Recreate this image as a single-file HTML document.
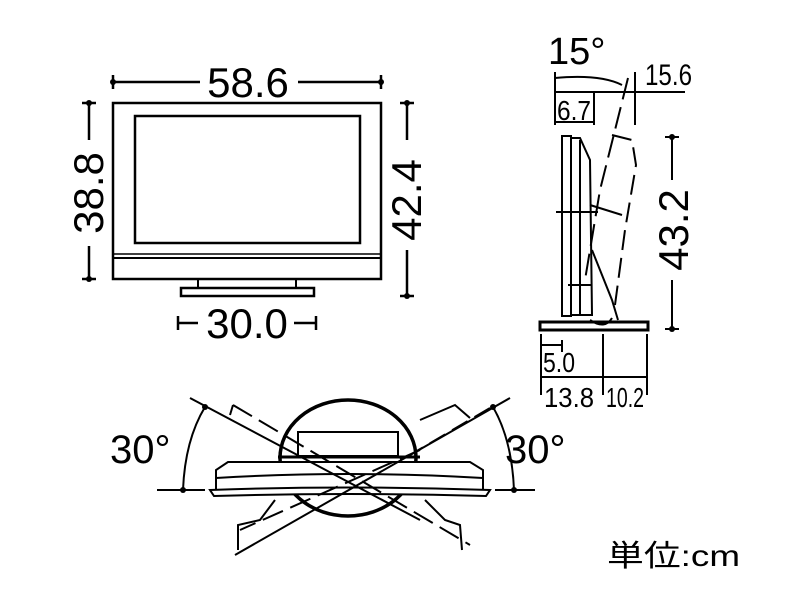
<!DOCTYPE html>
<html><head><meta charset="utf-8"><style>
html,body{margin:0;padding:0;background:#fff;}
svg{display:block;}
text{font-family:"Liberation Sans","Noto Sans CJK JP",sans-serif;fill:#000;}
</style></head><body>
<svg width="800" height="600" viewBox="0 0 800 600" xmlns="http://www.w3.org/2000/svg">
<g fill="none" stroke="#000" stroke-width="2.5">
<rect x="113" y="103" width="268" height="176"/>
<rect x="135" y="116" width="225" height="127"/>
<line x1="113" y1="254" x2="381" y2="254" stroke-width="1.5"/>
<line x1="113" y1="258" x2="381" y2="258" stroke-width="2"/>
<rect x="198" y="279" width="98" height="9" stroke-width="2"/>
<rect x="181" y="288" width="133" height="8"/>
<line x1="113" y1="82" x2="200" y2="82"/><line x1="298" y1="82" x2="381" y2="82"/>
<line x1="113" y1="75" x2="113" y2="89"/><line x1="381" y1="75" x2="381" y2="89"/>
<line x1="89" y1="103" x2="89" y2="140"/><line x1="89" y1="246" x2="89" y2="279"/>
<line x1="82" y1="103" x2="96" y2="103"/><line x1="82" y1="279" x2="96" y2="279"/>
<line x1="407" y1="103" x2="407" y2="140"/><line x1="407" y1="250" x2="407" y2="296"/>
<line x1="400" y1="103" x2="414" y2="103"/><line x1="400" y1="296" x2="414" y2="296"/>
<line x1="178" y1="323" x2="198" y2="323"/><line x1="294" y1="323" x2="316" y2="323"/>
<line x1="178" y1="316" x2="178" y2="330"/><line x1="316" y1="316" x2="316" y2="330"/>
</g>
<g fill="#000">
<circle cx="113" cy="82" r="3"/><circle cx="381" cy="82" r="3"/>
<circle cx="89" cy="103" r="3"/><circle cx="89" cy="279" r="3"/>
<circle cx="407" cy="103" r="3"/><circle cx="407" cy="296" r="3"/>
</g>
<text x="248" y="97" font-size="42" text-anchor="middle">58.6</text>
<text transform="translate(103,193) rotate(-90)" font-size="42" text-anchor="middle">38.8</text>
<text transform="translate(421,200) rotate(-90)" font-size="42" text-anchor="middle">42.4</text>
<text x="247" y="338" font-size="42" text-anchor="middle">30.0</text>

<g fill="none" stroke="#000" stroke-width="2">
<path d="M555 78 Q600 74 622 85"/>
<line x1="555" y1="92" x2="685" y2="92"/>
<line x1="555" y1="72" x2="555" y2="125"/>
<line x1="594" y1="92" x2="594" y2="125"/>
<line x1="555" y1="122" x2="594" y2="122"/>
<line x1="635" y1="72" x2="635" y2="125"/>
<rect x="562" y="136" width="9" height="180"/>
<path d="M571 138 L580 138 L590 160 L592 315 L571 315"/>
<line x1="580" y1="140" x2="580" y2="315"/>
<line x1="556" y1="212" x2="598" y2="212"/>
<line x1="568" y1="285" x2="592" y2="285"/>
<path d="M592 250 L612 300 L618 320"/>
<path d="M590 320 Q605 330 612 318"/>
<rect x="540" y="322" width="108" height="8" stroke-width="3"/>
<path d="M628 78 L600 190 L585 280" stroke-dasharray="22 8"/>
<path d="M612 135 L632 140 L636 165 L625 230 L615 305" stroke-dasharray="20 8"/>
<path d="M590 205 L622 215"/>
<line x1="672" y1="137" x2="672" y2="180"/><line x1="672" y1="280" x2="672" y2="329"/>
<line x1="665" y1="137" x2="679" y2="137"/><line x1="665" y1="329" x2="679" y2="329"/>
<line x1="541" y1="334" x2="541" y2="395"/>
<line x1="603" y1="334" x2="603" y2="395"/>
<line x1="647" y1="334" x2="647" y2="395"/>
<line x1="562" y1="340" x2="562" y2="352"/>
<line x1="541" y1="345" x2="562" y2="345"/>
<line x1="541" y1="377" x2="647" y2="377"/>
</g>
<g fill="#000"><circle cx="672" cy="137" r="3"/><circle cx="672" cy="329" r="3"/></g>
<text x="548" y="64" font-size="38">15°</text>
<text x="645" y="85" font-size="30" textLength="47" lengthAdjust="spacingAndGlyphs">15.6</text>
<text x="557" y="120" font-size="28" textLength="34" lengthAdjust="spacingAndGlyphs">6.7</text>
<text transform="translate(688,230) rotate(-90)" font-size="42" text-anchor="middle">43.2</text>
<text x="543" y="372" font-size="28" textLength="32" lengthAdjust="spacingAndGlyphs">5.0</text>
<text x="544" y="407" font-size="28" textLength="50" lengthAdjust="spacingAndGlyphs">13.8</text>
<text x="606" y="407" font-size="28" textLength="38" lengthAdjust="spacingAndGlyphs">10.2</text>

<g fill="none" stroke="#000" stroke-width="2">
<ellipse cx="348" cy="458" rx="68" ry="58" stroke-width="3.5"/>
<rect x="298" y="432" width="100" height="24" fill="#fff"/>
<path d="M216 490 L216 470 L228 462 L470 462 L483 470 L483 490" fill="#fff"/>
<path d="M216 478 Q348 470 483 478"/>
<path d="M210 490 Q348 485 490 490 L486 496 Q348 492 214 496 Z" fill="#fff"/>
<line x1="278" y1="457" x2="420" y2="457" stroke-width="3"/>
<line x1="157" y1="490" x2="205" y2="490"/>
<line x1="495" y1="490" x2="535" y2="490"/>
<path d="M183 490 Q185 440 205 407"/>
<path d="M514 490 Q512 440 493 407"/>
<line x1="190" y1="398" x2="420" y2="520"/>
<line x1="233" y1="405" x2="470" y2="545" stroke-dasharray="22 8"/>
<line x1="510" y1="398" x2="235" y2="555"/>
<line x1="490" y1="408" x2="410" y2="455" stroke-dasharray="18 8"/>
<line x1="420" y1="450" x2="240" y2="530" stroke-dasharray="22 8"/>
<path d="M233 405 L230 415 M420 420 L455 405 L470 418 M275 500 L260 520 L238 525 L238 550 M425 500 L445 520 L460 525 L462 550"/>
</g>
<g fill="#000"><circle cx="183" cy="490" r="3"/><circle cx="514" cy="490" r="3"/><circle cx="205" cy="407" r="3"/><circle cx="493" cy="407" r="3"/></g>
<text x="110" y="463" font-size="40">30°</text>
<text x="505" y="463" font-size="40">30°</text>
<text x="607" y="566" font-size="30" textLength="133" lengthAdjust="spacingAndGlyphs">単位:cm</text>
</svg>
</body></html>
